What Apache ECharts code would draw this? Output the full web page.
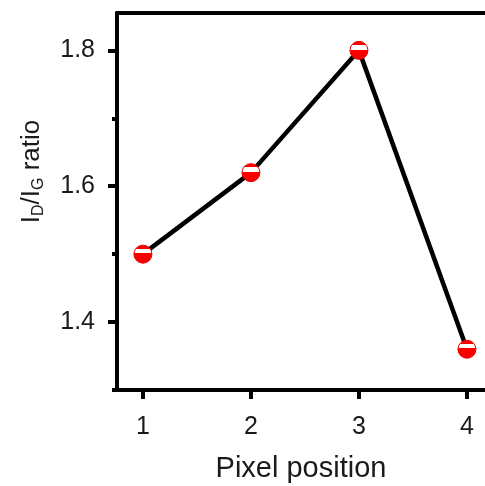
<!DOCTYPE html>
<html>
<head>
<meta charset="utf-8">
<script src="https://cdn.jsdelivr.net/npm/echarts@6/dist/echarts.min.js"></script>
<style>
  html, body { margin: 0; padding: 0; background: #fff; }
  #chart { width: 485px; height: 486px; }
</style>
</head>
<body>
<div id="chart"></div>
<script>
// data
var positions = [1, 2, 3, 4];
var ratios = [1.5, 1.62, 1.8, 1.36];
var xTicks = [1, 2, 3, 4];
var yTicks = [1.4, 1.6, 1.8];
var yMinorTicks = [1.3, 1.5, 1.7];

var chart = echarts.init(document.getElementById('chart'));
var font = 'Liberation Sans, Arial, sans-serif';

// red ball with white band
var ballFill = new echarts.graphic.LinearGradient(0, 0, 0, 1, [
  { offset: 0, color: '#f00' },
  { offset: 0.22, color: '#f00' },
  { offset: 0.22, color: '#fff' },
  { offset: 0.46, color: '#fff' },
  { offset: 0.46, color: '#f00' },
  { offset: 1, color: '#e00' }
]);

var option = {
  backgroundColor: '#fff',
  animation: false,
  grid: {
    left: 117,
    top: 13,
    width: 368,
    height: 377,
    outerBoundsMode: 'none',
    containLabel: false
  },
  xAxis: [{
    type: 'value',
    min: 0.76,
    max: 4.167,
    name: 'Pixel position',
    nameLocation: 'middle',
    nameGap: 64,
    nameTextStyle: { fontSize: 29, color: '#1a1a1a', fontFamily: font },
    axisLine: { show: true, lineStyle: { color: '#000', width: 4 } },
    axisTick: { show: true, customValues: xTicks, length: 9, lineStyle: { color: '#000', width: 4 } },
    axisLabel: { customValues: xTicks, fontSize: 25, color: '#1a1a1a', fontFamily: font, margin: 25 },
    splitLine: { show: false }
  }, {
    // top frame line
    type: 'value',
    position: 'top',
    min: 0.76,
    max: 4.167,
    axisLine: { show: true, lineStyle: { color: '#000', width: 4 } },
    axisTick: { show: false },
    axisLabel: { show: false },
    splitLine: { show: false }
  }],
  yAxis: [{
    type: 'value',
    min: 1.3,
    max: 1.855,
    name: '{t|I}{s|D}{t|/I}{s|G}{t| ratio}',
    nameLocation: 'middle',
    nameGap: 70,
    nameTextStyle: {
      padding: [0, 0, 0, 60],
      rich: {
        t: { fontSize: 26, color: '#1a1a1a', fontFamily: font },
        s: { fontSize: 16, color: '#1a1a1a', fontFamily: font, padding: [14, 0, 0, 0] }
      }
    },
    axisLine: { show: true, lineStyle: { color: '#000', width: 4 } },
    axisTick: { show: true, customValues: yTicks, length: 9, lineStyle: { color: '#000', width: 4 } },
    axisLabel: {
      customValues: yTicks, fontSize: 25, color: '#1a1a1a', fontFamily: font, margin: 22,
      formatter: function (v) { return v.toFixed(1); }
    },
    splitLine: { show: false }
  }, {
    type: 'value',
    position: 'left',
    min: 1.3,
    max: 1.855,
    axisLine: { show: false },
    axisTick: { show: true, customValues: yMinorTicks, length: 5, lineStyle: { color: '#000', width: 4 } },
    axisLabel: { show: false },
    splitLine: { show: false }
  }],
  series: [{
    type: 'line',
    data: positions.map(function (p, i) { return [p, ratios[i]]; }),
    symbol: 'circle',
    symbolSize: 18,
    lineStyle: { color: '#000', width: 4.5 },
    itemStyle: { color: ballFill, borderColor: '#e00', borderWidth: 1 },
    z: 3
  }]
};
chart.setOption(option);
</script>
</body>
</html>
